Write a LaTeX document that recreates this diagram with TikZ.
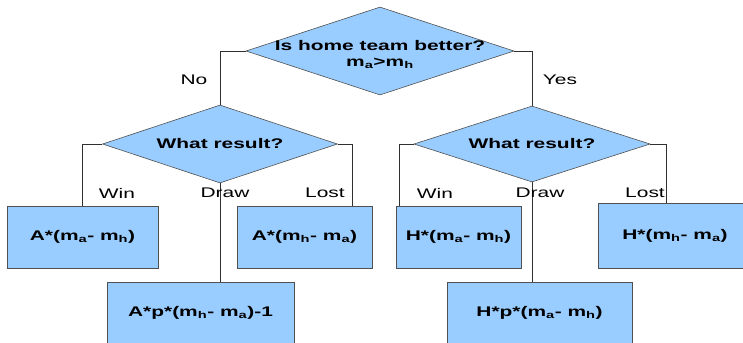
\documentclass[tikz,border=0pt]{standalone}
\usepackage{fontspec}
\setmainfont{Liberation Sans}[FakeStretch=1.5]
\usetikzlibrary{shapes.geometric}
\definecolor{fillblue}{HTML}{99CCFF}
\definecolor{edgegray}{HTML}{505050}
\definecolor{linegray}{HTML}{303030}
\newcommand{\subA}{\textsubscript{a}}
\newcommand{\subH}{\textsubscript{h}}
\begin{document}
\begin{tikzpicture}[x=1bp,y=-1bp,
  dia/.style={diamond, draw=edgegray, fill=fillblue, line width=0.6bp, inner sep=0pt},
  box/.style={rectangle, draw=edgegray, fill=fillblue, line width=0.6bp, inner sep=0pt,
    font=\fontsize{14}{16}\selectfont\bfseries},
  qtext/.style={font=\fontsize{14}{16}\selectfont\bfseries, inner sep=0pt},
  lbl/.style={font=\fontsize{14}{16}\selectfont, inner sep=0pt},
  conn/.style={draw=linegray, line width=0.6bp}]
\useasboundingbox (0,0) rectangle (743,342);
\begin{scope}
\clip (0,0) rectangle (743,342);
% decisions
\node[dia, minimum width=268bp, minimum height=88bp] (q1) at (380,51) {};
\node[qtext, anchor=base] (t1a) at (380,50) {Is home team better?};
\node[qtext, anchor=base] (t1b) at (380,66) {m\subA>m\subH};
\node[dia, minimum width=235bp, minimum height=78bp] (q2) at (220,144) {};
\node[qtext] (t2) at (220,144) {What result?};
\node[dia, minimum width=236bp, minimum height=76bp] (q3) at (532,144) {};
\node[qtext] (t3) at (532,144) {What result?};
% outcome boxes
\node[box, minimum width=151bp, minimum height=62bp] (b1) at (82.5,237) {A*(m\subA- m\subH)};
\node[box, minimum width=135bp, minimum height=62bp] (b2) at (304.5,237) {A*(m\subH- m\subA)};
\node[box, minimum width=187bp, minimum height=62bp] (b3) at (200.5,313) {A*p*(m\subH- m\subA)-1};
\node[box, minimum width=125bp, minimum height=62bp] (b4) at (458.5,237) {H*(m\subA- m\subH)};
\node[box, minimum width=154bp, minimum height=65bp] (b5) at (675,235.5) {H*(m\subH- m\subA)};
\node[box, minimum width=185bp, minimum height=62bp] (b6) at (539.5,313) {H*p*(m\subA- m\subH)};
% connectors
\draw[conn] (q1.west) -| (q2.north);
\draw[conn] (q1.east) -| (q3.north);
\draw[conn] (q2.west) -| (b1.north);
\draw[conn] (q2.east) -| (352,0 |- b2.north);
\draw[conn] (q2.south) -- (q2.south |- b3.north);
\draw[conn] (q3.west) -| (399,0 |- b4.north);
\draw[conn] (q3.east) -| (666,0 |- b5.north);
\draw[conn] (q3.south) -- (q3.south |- b6.north);
% labels
\node[lbl] (lno) at (194,80) {No};
\node[lbl] (lyes) at (560,80) {Yes};
\node[lbl] (lw1) at (117,193) {Win};
\node[lbl] (ld1) at (225,193) {Draw};
\node[lbl] (ll1) at (325,193) {Lost};
\node[lbl] (lw2) at (435,193) {Win};
\node[lbl] (ld2) at (540,193) {Draw};
\node[lbl] (ll2) at (645,193) {Lost};
\end{scope}
\end{tikzpicture}
\end{document}
